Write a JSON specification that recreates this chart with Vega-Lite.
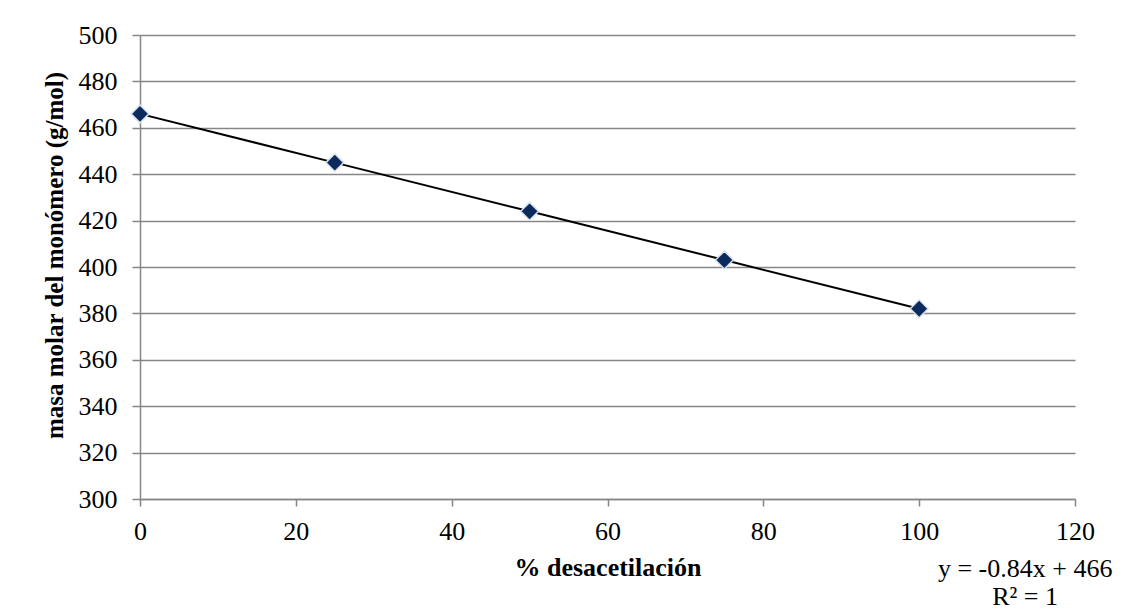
{
  "$schema": "https://vega.github.io/schema/vega-lite/v6.json",
  "width": 935,
  "height": 464,
  "autosize": "none",
  "padding": {"left": 140, "top": 35, "right": 49, "bottom": 114},
  "background": "white",
  "config": {
    "view": {"stroke": null},
    "font": "Liberation Serif",
    "axis": {
      "labelFont": "Liberation Serif",
      "titleFont": "Liberation Serif",
      "labelFontSize": 26,
      "titleFontSize": 26,
      "labelColor": "black",
      "titleColor": "black",
      "labelFlush": false,
      "domainColor": "#868686",
      "tickColor": "#868686",
      "gridColor": "#868686",
      "domainWidth": 1.5,
      "tickWidth": 1.5,
      "gridWidth": 1.5
    }
  },
  "data": {
    "values": [
      {"desacetilacion": 0, "masa": 466},
      {"desacetilacion": 25, "masa": 445},
      {"desacetilacion": 50, "masa": 424},
      {"desacetilacion": 75, "masa": 403},
      {"desacetilacion": 100, "masa": 382}
    ]
  },
  "layer": [
    {
      "mark": {"type": "line", "color": "black", "strokeWidth": 2},
      "encoding": {
        "x": {
          "field": "desacetilacion", "type": "quantitative",
          "scale": {"domain": [0, 120], "nice": false},
          "axis": {"values": [0, 20, 40, 60, 80, 100, 120], "grid": false, "tickSize": 7, "labelPadding": 12,
                   "title": "% desacetilación", "titleFontWeight": "bold", "titlePadding": 10}
        },
        "y": {
          "field": "masa", "type": "quantitative",
          "scale": {"domain": [300, 500], "nice": false, "zero": false},
          "axis": {"values": [300, 320, 340, 360, 380, 400, 420, 440, 460, 480, 500], "grid": true, "tickSize": 8, "labelPadding": 15,
                   "title": "masa molar del monómero (g/mol)", "titleFontWeight": "bold", "titleFontSize": 25, "titlePadding": 11, "titleY": 220}
        }
      }
    },
    {
      "mark": {"type": "point", "shape": "diamond", "filled": true, "fill": "#0d2a5c", "stroke": "#d9e2ee", "strokeWidth": 1.5, "size": 320, "opacity": 1},
      "encoding": {
        "x": {"field": "desacetilacion", "type": "quantitative"},
        "y": {"field": "masa", "type": "quantitative"}
      }
    },
    {
      "data": {"values": [{"label": ["y = -0.84x + 466", "R² = 1"]}]},
      "mark": {"type": "text", "align": "center", "baseline": "middle", "font": "Liberation Serif", "fontSize": 26, "lineHeight": 28, "color": "black"},
      "encoding": {
        "text": {"field": "label"},
        "x": {"datum": 113.6, "type": "quantitative"},
        "y": {"datum": 269.8, "type": "quantitative"}
      }
    }
  ]
}
